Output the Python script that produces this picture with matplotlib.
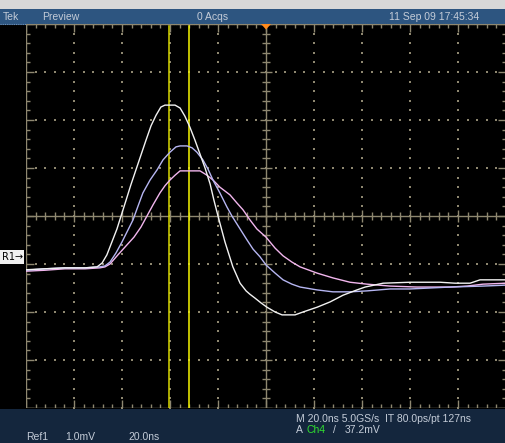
import numpy as np
import matplotlib
matplotlib.use('Agg')
import matplotlib.pyplot as plt
from matplotlib.patches import Rectangle, Polygon
from matplotlib.collections import LineCollection

# ---------------- data (time in ns, amplitude in mV; 20 ns/div, 1 mV/div) ----------------
white_t = [-100, -92.1, -83.8, -75.4, -70.4, -68.3, -66.3, -64.2, -62.1, -60.4, -58.3, -56.3,
           -54.2, -52.1, -50.0, -47.9, -45.8, -43.8, -42.1, -37.9, -35.8, -33.8, -31.7, -29.6,
           -27.5, -25.4, -23.3, -21.7, -20.0, -17.1, -13.8, -10.8, -8.3, -6.7, -4.6, -2.1, 0.4,
           3.8, 6.7, 12.1, 15.4, 21.3, 26.7, 32.1, 37.9, 41.3, 48.8, 60.0, 72.5, 78.8, 85.0,
           89.2, 100]
white_v = [-1.12, -1.10, -1.08, -1.08, -1.06, -0.98, -0.81, -0.54, -0.27, 0.00, 0.33, 0.65,
           0.96, 1.27, 1.58, 1.88, 2.10, 2.27, 2.31, 2.31, 2.25, 2.08, 1.85, 1.58,
           1.29, 1.00, 0.67, 0.33, 0.00, -0.54, -1.06, -1.40, -1.56, -1.63, -1.71, -1.81, -1.90,
           -2.00, -2.06, -2.06, -2.00, -1.90, -1.79, -1.65, -1.54, -1.48, -1.40, -1.38, -1.38,
           -1.40, -1.40, -1.33, -1.33]

blue_t = [-100, -92.1, -83.8, -75.4, -69.2, -67.1, -65.0, -62.5, -60.0, -57.5, -55.4, -53.3,
          -51.3, -48.3, -45.4, -42.9, -40.0, -37.5, -35.8, -32.9, -30.8, -28.8, -26.3, -24.2,
          -22.1, -19.2, -16.3, -14.2, -10.8, -7.9, -5.4, -2.5, 0.0, 3.8, 7.1, 10.8, 14.2, 21.3,
          27.9, 35.0, 42.1, 51.7, 60.0, 76.7, 90.4, 100]
blue_v = [-1.13, -1.10, -1.08, -1.08, -1.06, -1.04, -0.96, -0.77, -0.54, -0.29, -0.08, 0.21,
          0.48, 0.75, 0.96, 1.17, 1.33, 1.44, 1.46, 1.46, 1.42, 1.33, 1.17, 0.98,
          0.75, 0.48, 0.19, 0.00, -0.27, -0.50, -0.69, -0.85, -1.02, -1.19, -1.33, -1.42, -1.48,
          -1.54, -1.58, -1.58, -1.56, -1.52, -1.52, -1.48, -1.46, -1.44]

pink_t = [-100, -92.1, -83.8, -75.4, -69.2, -67.1, -65.0, -61.7, -57.9, -55.0, -52.1, -49.6,
          -47.1, -44.2, -42.1, -40.0, -37.9, -35.8, -27.5, -24.6, -22.1, -19.2, -15.0, -12.1,
          -9.6, -6.7, -3.8, 0.0, 3.8, 7.1, 10.8, 14.2, 21.3, 27.9, 35.0, 42.1, 51.7, 62.9,
          76.7, 83.8, 90.4, 100]
pink_v = [-1.15, -1.13, -1.10, -1.10, -1.08, -1.06, -1.00, -0.81, -0.60, -0.44, -0.23, 0.00,
          0.23, 0.48, 0.63, 0.75, 0.85, 0.94, 0.94, 0.85, 0.75, 0.60, 0.44, 0.27,
          0.13, -0.08, -0.27, -0.44, -0.67, -0.83, -0.96, -1.06, -1.19, -1.29, -1.38, -1.42,
          -1.46, -1.48, -1.48, -1.46, -1.42, -1.40]

cursor_t = [-40.4, -32.1]
ref_level = -0.85

header_labels = ["Tek", "Preview", "0 Acqs", "11 Sep 09 17:45:34"]
status_line1 = ["M 20.0ns 5.0GS/s", "IT 80.0ps/pt 127ns"]
status_line2 = ["A", "Ch4", "/", "37.2mV"]
ref_line = ["Ref1", "1.0mV", "20.0ns"]

# ---------------- styling ----------------
W, H = 506, 443
FONT = ['Liberation Sans Narrow', 'Liberation Sans', 'DejaVu Sans']
plt.rcParams['font.family'] = FONT
gc = '#8e8770'
bg_header = '#2d5580'
bg_bottom = '#14263d'
txt_col = '#c4ccd8'

fig = plt.figure(figsize=(W / 100, H / 100), dpi=100, facecolor='black')

# overlay in pixel coordinates
ov = fig.add_axes([0, 0, 1, 1], zorder=0)
ov.set_xlim(0, W)
ov.set_ylim(H, 0)
ov.axis('off')
ov.patch.set_alpha(0)
ov.add_patch(Rectangle((0, 0), W, 9, color='#d8d8d8', lw=0))
ov.add_patch(Rectangle((0, 9), W, 15.5, color=bg_header, lw=0))
ov.plot([0, W], [24, 24], color='#6f8fb3', lw=0.8, ls=(0, (1, 1)))
ov.add_patch(Rectangle((0, 409), W, H - 409, color=bg_bottom, lw=0))

hx = [3, 42, 197, 389]
for x, s in zip(hx, header_labels):
    ov.text(x, 17, s, color=txt_col, fontsize=7.5, va='center', ha='left')

ov.text(296, 419, status_line1[0], color=txt_col, fontsize=7.5, va='center')
ov.text(385, 419, status_line1[1], color=txt_col, fontsize=7.5, va='center')
for x, s, c in zip([296, 307, 333, 345], status_line2,
                   [txt_col, '#30e030', txt_col, txt_col]):
    ov.text(x, 430, s, color=c, fontsize=7.5, va='center')
for x, s in zip([26, 65, 128], ref_line):
    ov.text(x, 437.5, s, color=txt_col, fontsize=7.5, va='center')

# ---------------- graticule axes ----------------
L, T = 26, 24
ax = fig.add_axes([L / W, (H - T - 384) / H, 480 / W, 384 / H], zorder=1)
ax.set_xlim(-100, 100)
ax.set_ylim(-4, 4)
ax.set_facecolor('black')
ax.axis('off')

pxx = 200 / 480.0   # ns per pixel
pxy = 8 / 384.0     # mV per pixel

segs = []
# border
segs += [[(-100, -4), (100, -4)], [(100, -4), (100, 4)], [(100, 4), (-100, 4)], [(-100, 4), (-100, -4)]]
# centre cross
segs += [[(-100, 0), (100, 0)], [(0, -4), (0, 4)]]
for i in range(-25, 26):
    x = 4 * i
    major = (i % 5 == 0)
    lb = 8 if major else 4
    segs.append([(x, 4), (x, 4 - lb * pxy)])
    segs.append([(x, -4), (x, -4 + lb * pxy)])
    lc = 6 if major else 4
    segs.append([(x, -lc * pxy), (x, lc * pxy)])
for j in range(-20, 21):
    y = 0.2 * j
    major = (j % 5 == 0)
    lb = 8 if major else 4
    segs.append([(-100, y), (-100 + lb * pxx, y)])
    segs.append([(100, y), (100 - lb * pxx, y)])
    lc = 6 if major else 4
    segs.append([(-lc * pxx, y), (lc * pxx, y)])
ax.add_collection(LineCollection(segs, colors=gc, linewidths=1.0, zorder=1))

# dotted division lines
dx, dy = [], []
for k in range(-4, 5):
    if k == 0:
        continue
    for j in range(-20, 21):
        dx.append(20 * k); dy.append(0.2 * j)
for m in range(-3, 4):
    if m == 0:
        continue
    for i in range(-25, 26):
        dx.append(4 * i); dy.append(m)
ax.scatter(dx, dy, s=1.2, marker='s', c=gc, linewidths=0, zorder=1)

# cursors
for t, c in zip(cursor_t, ['#d8d800', '#f6f600']):
    ax.plot([t, t], [-4, 4 - 2 * pxy], color=c, lw=1.1, zorder=3)

# traces
ax.plot(pink_t, pink_v, color='#f2b6ee', lw=1.0, zorder=4)
ax.plot(blue_t, blue_v, color='#b6b6f2', lw=1.0, zorder=5)
ax.plot(white_t, white_v, color='#f2f2f2', lw=1.0, zorder=6)

# trigger marker
ax.add_patch(Polygon([(-5 * pxx, 4), (5 * pxx, 4), (0, 4 - 5.5 * pxy)], closed=True,
                     color='#ff8a1c', lw=0, zorder=7, clip_on=False))

# reference marker
ry = 216 - ref_level * 48
ov.add_patch(Rectangle((0, ry - 7), 24, 14, color='#f0f0f0', lw=0))
ov.text(2, ry, "R1\u2192", color='black', fontsize=7, va='center', ha='left',
        family=['DejaVu Sans'])

fig.savefig('out.png', dpi=100, facecolor='black')
